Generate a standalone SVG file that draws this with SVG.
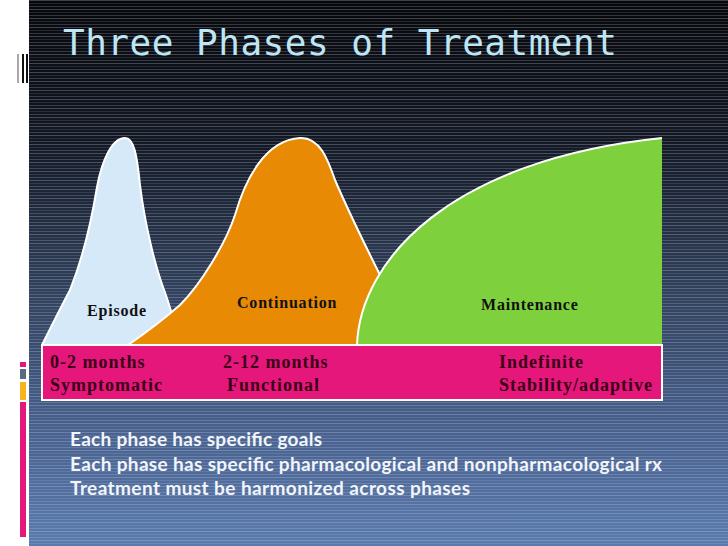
<svg xmlns="http://www.w3.org/2000/svg" width="728" height="546" viewBox="0 0 728 546">
<defs>
<linearGradient id="bg" x1="0" y1="0" x2="0" y2="1">
<stop offset="0" stop-color="#07080b"/>
<stop offset="0.25" stop-color="#121722"/>
<stop offset="0.55" stop-color="#33435f"/>
<stop offset="0.8" stop-color="#4a6390"/>
<stop offset="1" stop-color="#5b7bae"/>
</linearGradient>
<pattern id="stripes" patternUnits="userSpaceOnUse" width="728" height="9">
<rect x="0" y="0" width="728" height="1" fill="#c8d4ea" opacity="0.28"/>
<rect x="0" y="3" width="728" height="1" fill="#c8d4ea" opacity="0.14"/>
<rect x="0" y="6" width="728" height="1" fill="#c8d4ea" opacity="0.22"/>
</pattern>
<style>
.lbl{font-family:"Liberation Serif","Times New Roman",serif;font-weight:bold;font-size:16px;letter-spacing:0.8px;fill:#111}
.box{font-family:"Liberation Serif","Times New Roman",serif;font-weight:bold;font-size:18px;letter-spacing:1px;fill:#3b0018}
.bul{font-family:Lato,"Open Sans",sans-serif;font-weight:bold;font-size:19px;fill:#f2f5fa}
.edge{stroke:#ffffff;stroke-width:2;stroke-linejoin:round}
</style>
</defs>
<rect x="0" y="0" width="728" height="546" fill="#ffffff"/>
<rect x="29" y="0" width="699" height="546" fill="url(#bg)"/>
<rect x="29" y="0" width="699" height="546" fill="url(#stripes)"/>
<g id="left-decor">
<rect x="17" y="54" width="2" height="29" fill="#a8a8a8"/>
<rect x="22" y="54" width="2" height="29" fill="#111"/>
<rect x="26" y="54" width="2" height="29" fill="#111"/>
<rect x="20" y="362" width="6" height="5" fill="#e3187a"/>
<rect x="20" y="369" width="6" height="10" fill="#5a6a80"/>
<rect x="20" y="382" width="6" height="18" fill="#f6b51e"/>
<rect x="20" y="402" width="6" height="135" fill="#e3187a"/>
</g>
<text x="63" y="55" font-family="'DejaVu Sans Mono',monospace" font-size="36" letter-spacing="0.5" fill="#bfe6f5">Three Phases of Treatment</text>
<g id="episode">
<path class="edge" fill="#d5e9f9" d="M42,345 C52,325 62,305 70,290 C80,265 90,230 97,187 C102,160 112,138 125,138 C134,138 137,155 140,185 C145,225 155,265 163,287 C168,300 172,312 180,345 Z"/>
</g>
<g id="continuation">
<path class="edge" fill="#e98a05" d="M128,345 C150,330 165,318 180,305 C200,285 225,245 235,215 C245,180 265,140 300,138 C320,137 328,160 335,180 C350,215 365,245 380,275 L420,345 Z"/>
</g>
<g id="maintenance">
<path fill="#7ed03c" d="M357,345 C360,260 450,160 662,138 L662,345 Z"/>
<path class="edge" fill="none" d="M357,345 C360,260 450,160 662,138"/>
</g>
<g id="labels">
<text class="lbl" x="87" y="316">Episode</text>
<text class="lbl" x="237" y="308">Continuation</text>
<text class="lbl" x="481" y="310">Maintenance</text>
</g>
<g id="timeline">
<rect x="42" y="345" width="620" height="55" fill="#e5177b" stroke="#ffffff" stroke-width="2"/>
<text class="box" x="50" y="368">0-2 months</text>
<text class="box" x="50" y="391">Symptomatic</text>
<text class="box" x="223" y="368">2-12 months</text>
<text class="box" x="227" y="391">Functional</text>
<text class="box" x="499" y="368">Indefinite</text>
<text class="box" x="499" y="391">Stability/adaptive</text>
</g>
<g id="notes">
<text class="bul" x="70" y="446" textLength="252">Each phase has specific goals</text>
<text class="bul" x="70" y="471" textLength="592">Each phase has specific pharmacological and nonpharmacological rx</text>
<text class="bul" x="70" y="495" textLength="400">Treatment must be harmonized across phases</text>
</g>
</svg>
